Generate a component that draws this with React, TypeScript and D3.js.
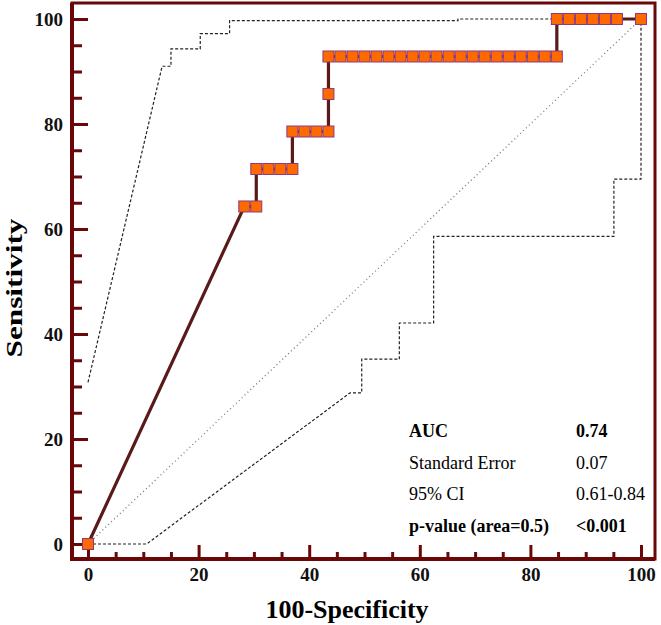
import React, { useEffect, useRef } from 'react';
import * as d3 from 'd3';

// ROC points (100-Specificity, Sensitivity)
const rocX = [0, 28.26, 30.43, 30.43, 32.61, 34.78, 36.96, 36.96, 39.13, 41.3, 43.48, 43.48,
  43.48, 45.65, 47.83, 50.0, 52.17, 54.35, 56.52, 58.7, 60.87, 63.04, 65.22, 67.39, 69.57,
  71.74, 73.91, 76.09, 78.26, 80.43, 82.61, 84.78,
  84.78, 86.96, 89.13, 91.3, 93.48, 95.65, 100];
const rocY = [0, 64.29, 64.29, 71.43, 71.43, 71.43, 71.43, 78.57, 78.57, 78.57, 78.57, 85.71,
  92.86, 92.86, 92.86, 92.86, 92.86, 92.86, 92.86, 92.86, 92.86, 92.86, 92.86, 92.86, 92.86,
  92.86, 92.86, 92.86, 92.86, 92.86, 92.86, 92.86,
  100, 100, 100, 100, 100, 100, 100];

// 95% confidence bounds
const upperX = [0, 13.4, 15.0, 15.0, 20.3, 20.3, 25.6, 25.6, 66.9, 66.9, 100];
const upperY = [30.8, 91.0, 91.0, 94.3, 94.3, 97.2, 97.2, 99.7, 99.7, 100, 100];
const lowerX = [0, 10.6, 47.4, 49.5, 49.5, 56.3, 56.3, 62.5, 62.5, 95.1, 95.1, 100, 100];
const lowerY = [0, 0, 28.8, 28.8, 35.2, 35.2, 42.1, 42.1, 58.6, 58.6, 69.5, 69.5, 100];

const majorTicks = [0, 20, 40, 60, 80, 100];
const minorTicks = [5, 10, 15, 25, 30, 35, 45, 50, 55, 65, 70, 75, 85, 90, 95];

const statLabels = ['AUC', 'Standard Error', '95% CI', 'p-value (area=0.5)'];
const statValues = ['0.74', '0.07', '0.61-0.84', '<0.001'];
const statBold = [true, false, false, true];

const serif = '"Liberation Serif", "Times New Roman", serif';
const axisColor = '#6a0808';

const App = () => {
  const ref = useRef<SVGSVGElement>(null);

  useEffect(() => {
    const svg = d3.select(ref.current);
    svg.selectAll('*').remove();

    const x = d3.scaleLinear().domain([0, 100]).range([88, 641]);
    const y = d3.scaleLinear().domain([0, 100]).range([544, 19]);
    const box = { left: 72, right: 655, top: 3, bottom: 559 };

    const line = d3.line<[number, number]>().x(d => x(d[0])).y(d => y(d[1]));

    // reference diagonal
    svg.append('path')
      .attr('d', line([[0, 0], [100, 100]]))
      .attr('fill', 'none')
      .attr('stroke', '#777')
      .attr('stroke-width', 1.3)
      .attr('stroke-dasharray', '1,3');

    // CI bounds
    [[upperX, upperY], [lowerX, lowerY]].forEach(([xs, ys]) => {
      svg.append('path')
        .attr('d', line(xs.map((v, i) => [v, ys[i]] as [number, number])))
        .attr('fill', 'none')
        .attr('stroke', '#222')
        .attr('stroke-width', 1.2)
        .attr('stroke-dasharray', '3,2');
    });

    // frame
    svg.append('rect')
      .attr('x', box.left)
      .attr('y', box.top)
      .attr('width', box.right - box.left)
      .attr('height', box.bottom - box.top)
      .attr('fill', 'none')
      .attr('stroke', axisColor)
      .attr('stroke-width', 3);

    // left axis
    const yAxis = svg.append('g')
      .attr('transform', `translate(${box.left},0)`)
      .call(d3.axisLeft(y).tickValues(majorTicks).tickSize(-16).tickPadding(9));
    yAxis.select('.domain').remove();
    svg.append('g')
      .attr('transform', `translate(${box.left},0)`)
      .call(d3.axisLeft(y).tickValues(minorTicks).tickSize(-10).tickFormat(() => ''))
      .select('.domain').remove();

    // bottom axis
    const xAxis = svg.append('g')
      .attr('transform', `translate(0,${box.bottom})`)
      .call(d3.axisBottom(x).tickValues(majorTicks).tickSize(-14).tickPadding(9));
    xAxis.select('.domain').remove();
    svg.append('g')
      .attr('transform', `translate(0,${box.bottom})`)
      .call(d3.axisBottom(x).tickValues(minorTicks).tickSize(-7).tickFormat(() => ''))
      .select('.domain').remove();

    svg.selectAll('.tick line')
      .attr('stroke', axisColor)
      .attr('stroke-width', 3);
    svg.selectAll('.tick text')
      .attr('fill', '#111')
      .style('font-family', serif)
      .style('font-size', '19px')
      .style('font-weight', 'bold');

    svg.append('line')
      .attr('x1', box.left).attr('x2', box.left)
      .attr('y1', box.top).attr('y2', box.bottom + 2)
      .attr('stroke', axisColor).attr('stroke-width', 4);
    svg.append('line')
      .attr('x1', box.left - 2).attr('x2', box.right)
      .attr('y1', box.bottom).attr('y2', box.bottom)
      .attr('stroke', axisColor).attr('stroke-width', 4);

    // ROC curve
    const pts = rocX.map((v, i) => [v, rocY[i]] as [number, number]);
    svg.append('path')
      .attr('d', line(pts))
      .attr('fill', 'none')
      .attr('stroke', '#5a1a1a')
      .attr('stroke-width', 3.2);

    const s = 11;
    svg.selectAll('.pt')
      .data(pts)
      .enter()
      .append('rect')
      .attr('class', 'pt')
      .attr('x', d => x(d[0]) - s / 2)
      .attr('y', d => y(d[1]) - s / 2)
      .attr('width', s)
      .attr('height', s)
      .attr('fill', '#ff6a00')
      .attr('stroke', '#8e3a78')
      .attr('stroke-width', 1);

    // axis titles
    svg.append('text')
      .attr('transform', 'translate(22,288) rotate(-90)')
      .attr('text-anchor', 'middle')
      .attr('textLength', 139)
      .attr('lengthAdjust', 'spacingAndGlyphs')
      .style('font-family', serif)
      .style('font-size', '24px')
      .style('font-weight', 'bold')
      .text('Sensitivity');

    svg.append('text')
      .attr('x', 347)
      .attr('y', 618)
      .attr('text-anchor', 'middle')
      .style('font-family', serif)
      .style('font-size', '26px')
      .style('font-weight', 'bold')
      .text('100-Specificity');

    // stats table
    statLabels.forEach((lab, i) => {
      const yy = 437 + i * 31.6;
      const weight = statBold[i] ? 'bold' : 'normal';
      svg.append('text')
        .attr('x', 409).attr('y', yy)
        .style('font-family', serif)
        .style('font-size', '18px')
        .style('font-weight', weight)
        .text(lab);
      svg.append('text')
        .attr('x', 576).attr('y', yy)
        .style('font-family', serif)
        .style('font-size', '18px')
        .style('font-weight', weight)
        .text(statValues[i]);
    });
  }, []);

  return (
    <svg ref={ref} width={661} height={625}
      style={{ position: 'absolute', left: 0, top: 0, background: '#fff' }} />
  );
};

export default App;
